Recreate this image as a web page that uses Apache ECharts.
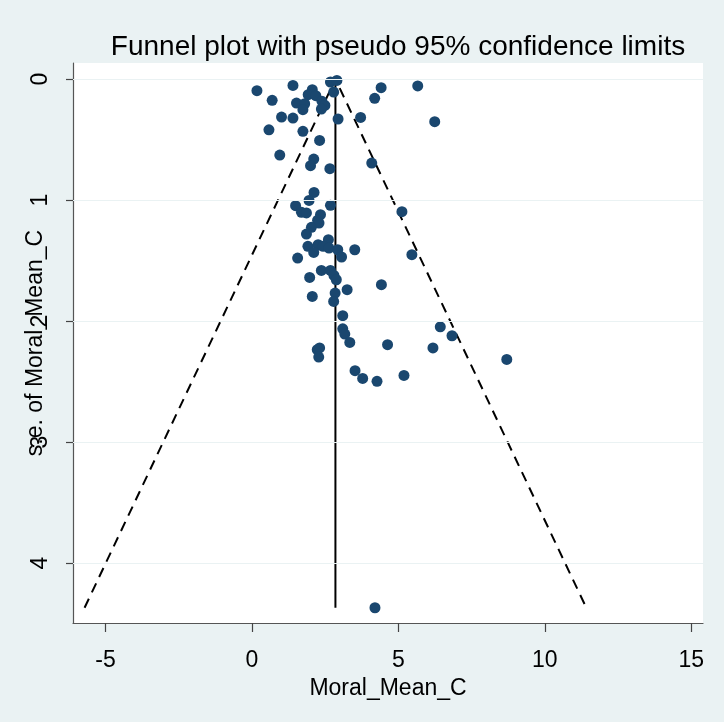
<!DOCTYPE html>
<html>
<head>
<meta charset="utf-8">
<script src="https://cdn.jsdelivr.net/npm/echarts@6/dist/echarts.min.js"></script>
<style>
html,body{margin:0;padding:0;background:#EAF2F3;}
#c{width:724px;height:722px;}
</style>
</head>
<body>
<div id="c"></div>
<script>
// Study effect sizes (Moral_Mean_C) and their standard errors
const effects = [0.17,1.40,2.06,1.92,2.18,2.68,2.90,2.79,4.41,5.66,
  0.69,1.52,1.80,1.74,2.39,2.49,2.37,4.19,1.01,1.40,
  2.94,3.71,6.24,0.58,1.74,2.31,0.95,2.11,2.00,2.66,
  4.09,2.12,1.95,1.49,2.68,5.12,1.69,1.86,2.34,2.24,
  2.29,2.03,1.86,2.61,1.91,2.26,2.43,2.63,2.11,2.93,
  3.51,3.06,1.56,5.46,2.37,2.68,2.80,2.88,1.97,3.25,
  4.42,2.84,2.06,2.79,3.10,3.10,6.43,3.17,3.34,2.23,
  2.31,2.28,4.63,6.18,6.83,3.52,3.78,4.27,5.19,8.70,
  4.20];
const stdErrs = [0.095,0.051,0.087,0.128,0.136,0.023,0.010,0.106,0.070,0.056,
  0.175,0.197,0.203,0.252,0.183,0.217,0.247,0.158,0.313,0.321,
  0.329,0.316,0.351,0.418,0.431,0.506,0.627,0.660,0.715,0.740,
  0.693,0.936,1.002,1.046,1.043,1.095,1.101,1.106,1.120,1.167,
  1.189,1.225,1.280,1.327,1.382,1.368,1.382,1.396,1.432,1.410,
  1.410,1.470,1.479,1.451,1.581,1.581,1.622,1.658,1.639,1.740,
  1.699,1.768,1.796,1.837,1.955,2.064,2.047,2.107,2.176,2.236,
  2.222,2.297,2.195,2.222,2.121,2.410,2.474,2.498,2.449,2.317,
  4.370];
const pooledEffect = 2.85;
const maxSe = 4.37;
const zCrit = 1.96;
const xTicks = [-5, 0, 5, 10, 15];
const yTicks = [0, 1, 2, 3, 4];

const FONT = "'Liberation Sans', Arial, sans-serif";
const points = effects.map((v, i) => [v, stdErrs[i]]);
const funnel = [
  [pooledEffect - zCrit * maxSe, maxSe],
  [pooledEffect, 0],
  [pooledEffect + zCrit * maxSe, maxSe]
];
const centerLine = [[pooledEffect, 0], [pooledEffect, maxSe]];

const chart = echarts.init(document.getElementById('c'), null, {renderer: 'canvas'});
chart.setOption({
  backgroundColor: '#EAF2F3',
  animation: false,
  title: {
    text: 'Funnel plot with pseudo 95% confidence limits',
    left: 393, top: 28, textAlign: 'center',
    textStyle: {fontFamily: FONT, fontSize: 28, fontWeight: 'normal', color: '#000'}
  },
  grid: {left: 73, right: 21, top: 63, bottom: 99, show: true, backgroundColor: '#fff', borderWidth: 0},
  xAxis: {
    type: 'value', min: -6.11, max: 15.4,
    name: 'Moral_Mean_C', nameLocation: 'middle', nameGap: 54, nameMoveOverlap: false,
    nameTextStyle: {fontFamily: FONT, fontSize: 23, color: '#000'},
    axisLine: {show: true, onZero: false, lineStyle: {color: '#555', width: 1.2}},
    axisTick: {show: true, length: 9, customValues: xTicks, lineStyle: {color: '#444', width: 1.2}},
    axisLabel: {customValues: xTicks, fontFamily: FONT, fontSize: 23, color: '#000', margin: 26},
    splitLine: {show: false}
  },
  yAxis: {
    type: 'value', inverse: true, min: -0.134, max: 4.496,
    name: 's.e. of Moral_Mean_C', nameLocation: 'middle', nameRotate: 90, nameGap: 26, nameMoveOverlap: false,
    nameTextStyle: {fontFamily: FONT, fontSize: 23, color: '#000'},
    axisLine: {show: true, onZero: false, lineStyle: {color: '#555', width: 1.2}},
    axisTick: {show: true, length: 7, customValues: yTicks, lineStyle: {color: '#444', width: 1.2}},
    axisLabel: {customValues: yTicks, rotate: 90, fontFamily: FONT, fontSize: 23, color: '#000', margin: 21},
    splitLine: {show: false}
  },
  series: [
    {
      type: 'line', data: [], z: 1, silent: true,
      markLine: {
        silent: true, symbol: ['none', 'none'], label: {show: false},
        lineStyle: {color: '#EAF2F3', width: 1.2, type: 'solid'},
        data: yTicks.map(t => ({yAxis: t}))
      }
    },
    {
      type: 'line', data: funnel, z: 3, symbol: 'none', silent: true,
      lineStyle: {color: '#000', width: 2, type: [10, 7]}
    },
    {
      type: 'line', data: centerLine, z: 3, symbol: 'none', silent: true,
      lineStyle: {color: '#000', width: 2}
    },
    {
      type: 'scatter', data: points, z: 4, symbolSize: 11,
      itemStyle: {color: '#1A476F', opacity: 1}
    }
  ]
});
</script>
</body>
</html>
